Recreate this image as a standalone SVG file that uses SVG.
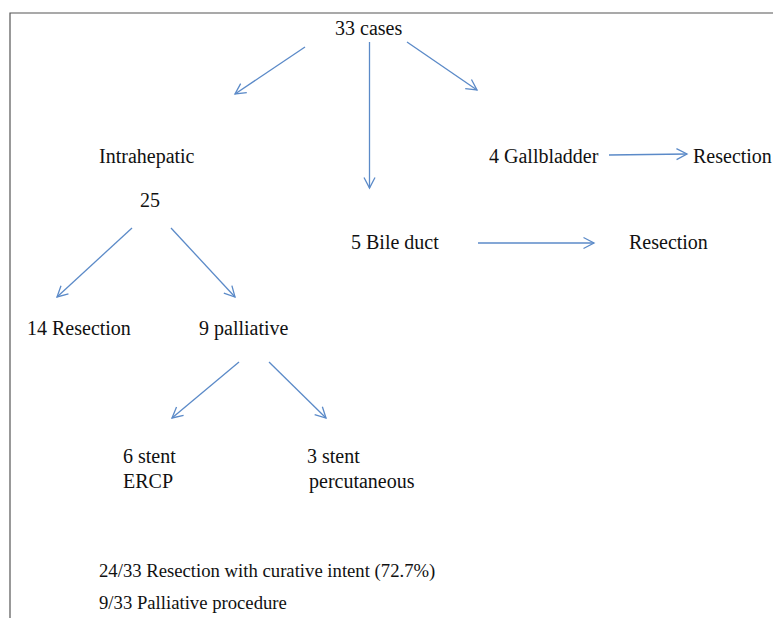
<svg xmlns="http://www.w3.org/2000/svg" width="773" height="618" viewBox="0 0 773 618">
<style>
.t{font-size:20px;fill:#111}
.note{font-size:18.7px;fill:#111}
.frame{stroke:#555;stroke-width:1.2;fill:none}
.arr{stroke:#5b8ac8;stroke-width:1.3;fill:none;marker-end:url(#ah)}
</style>
<defs>
<marker id="ah" markerUnits="userSpaceOnUse" markerWidth="14" markerHeight="14" viewBox="-12 -7 14 14" refX="0" refY="0" orient="auto">
<path d="M-10.5,-5.5 L0,0 L-10.5,5.5" fill="none" stroke="#5b8ac8" stroke-width="1.3"/>
</marker>
</defs>
<rect width="773" height="618" fill="#fff"/>
<path class="frame" d="M10,618 V13 H773"/>
<g id="connectors">
<line class="arr" x1="305" y1="47" x2="235" y2="94"/>
<line class="arr" x1="369.5" y1="42" x2="369.5" y2="188"/>
<line class="arr" x1="407" y1="42" x2="477" y2="90"/>
<line class="arr" x1="609" y1="155" x2="687" y2="154"/>
<line class="arr" x1="478" y1="243" x2="594" y2="243"/>
<line class="arr" x1="132" y1="228" x2="57" y2="297"/>
<line class="arr" x1="171" y1="228" x2="235" y2="297"/>
<line class="arr" x1="239" y1="362" x2="172" y2="418"/>
<line class="arr" x1="269" y1="362" x2="326" y2="418"/>
</g>
<g font-family="'Liberation Serif', 'Times New Roman', serif">
<g id="n-cases"><text class="t" x="335" y="35">33 cases</text></g>
<g id="n-intra"><text class="t" x="99" y="163">Intrahepatic</text><text class="t" x="140" y="207">25</text></g>
<g id="n-gall"><text class="t" x="489" y="163">4 Gallbladder</text></g>
<g id="n-gall-res"><text class="t" x="693" y="163">Resection</text></g>
<g id="n-bile"><text class="t" x="351" y="249">5 Bile duct</text></g>
<g id="n-bile-res"><text class="t" x="629" y="249">Resection</text></g>
<g id="n-res14"><text class="t" x="27" y="335">14 Resection</text></g>
<g id="n-pall"><text class="t" x="199" y="335">9 palliative</text></g>
<g id="n-ercp"><text class="t" x="123" y="463">6 stent</text><text class="t" x="123" y="488">ERCP</text></g>
<g id="n-perc"><text class="t" x="307" y="463">3 stent</text><text class="t" x="309" y="488">percutaneous</text></g>
<g id="notes"><text class="note" x="99" y="577">24/33 Resection with curative intent (72.7%)</text><text class="note" x="99" y="609">9/33 Palliative procedure</text></g>
</g>
</svg>
